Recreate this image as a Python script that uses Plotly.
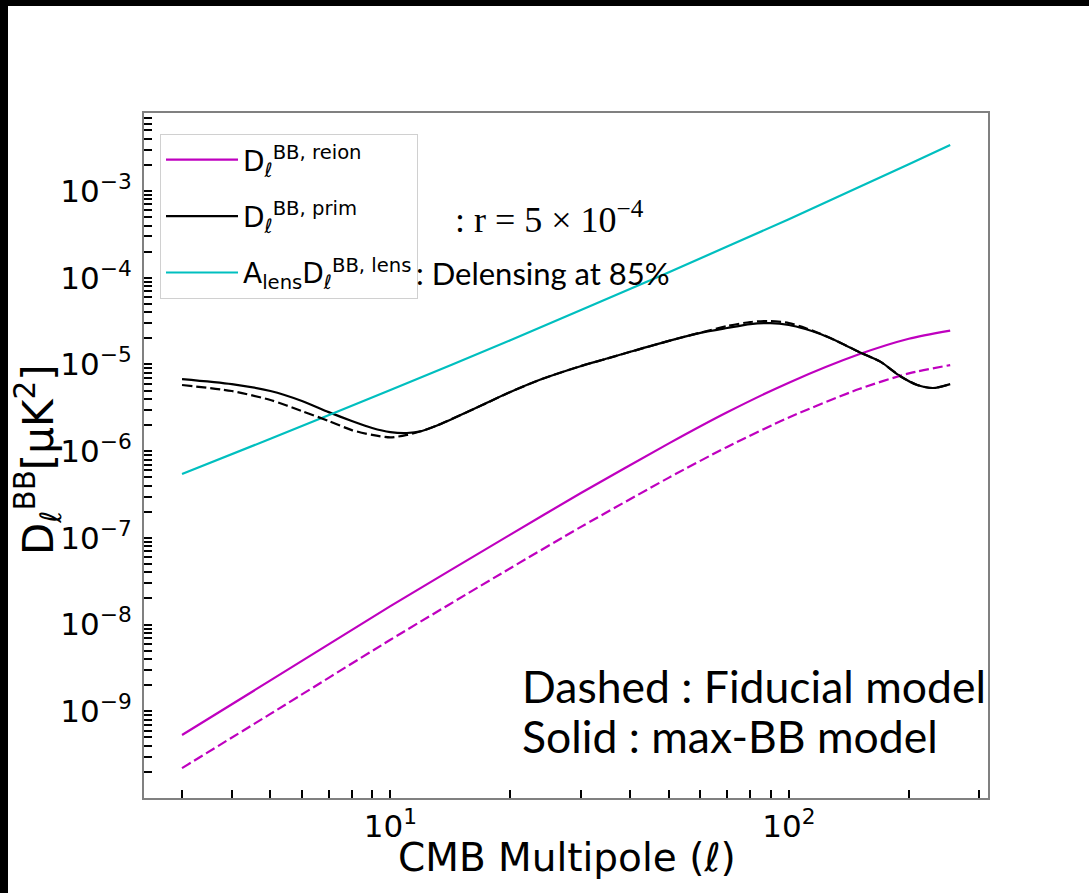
import plotly.graph_objects as go

# ---------------- data ----------------
ell_prim = [3, 4, 5, 6, 7, 8, 9, 10, 11, 12, 13, 15, 17, 20, 24, 30, 35, 40, 50,
            60, 70, 80, 90, 100, 110, 120, 135, 150, 170, 190, 210, 230, 254]
prim_maxbb = [6.79e-6, 5.94e-6, 4.94e-6, 3.79e-6, 2.82e-6, 2.23e-6, 1.85e-6, 1.66e-6,
              1.62e-6, 1.71e-6, 1.95e-6, 2.61e-6, 3.40e-6, 4.81e-6, 6.79e-6, 9.55e-6,
              1.17e-5, 1.40e-5, 1.87e-5, 2.31e-5, 2.63e-5, 2.92e-5, 3.00e-5, 2.85e-5,
              2.56e-5, 2.24e-5, 1.77e-5, 1.39e-5, 1.07e-5, 7.36e-6, 5.79e-6, 5.35e-6, 5.94e-6]
prim_fid = [5.79e-6, 4.94e-6, 3.89e-6, 2.90e-6, 2.23e-6, 1.75e-6, 1.54e-6, 1.44e-6,
            1.54e-6, 1.71e-6, 1.95e-6, 2.61e-6, 3.40e-6, 4.81e-6, 6.79e-6, 9.55e-6,
            1.17e-5, 1.40e-5, 1.87e-5, 2.33e-5, 2.77e-5, 3.09e-5, 3.17e-5, 3.00e-5,
            2.63e-5, 2.26e-5, 1.77e-5, 1.39e-5, 1.07e-5, 7.36e-6, 5.79e-6, 5.35e-6, 5.94e-6]

ell_reion = [3, 5, 10, 20, 30, 50, 70, 100, 150, 200, 254]
reion_maxbb = [5.32e-10, 2.27e-9, 1.63e-8, 1.09e-7, 3.27e-7, 1.23e-6, 2.81e-6,
               6.17e-6, 1.31e-5, 1.98e-5, 2.46e-5]
reion_fid = [2.21e-10, 9.33e-10, 6.68e-9, 4.47e-8, 1.33e-7, 4.95e-7, 1.12e-6,
             2.45e-6, 5.20e-6, 7.89e-6, 9.84e-6]

ell_lens = [3, 5, 10, 20, 50, 100, 200, 254]
lens_delensed = [5.45e-7, 1.39e-6, 5.08e-6, 1.90e-5, 1.16e-4, 4.74e-4, 2.04e-3, 3.40e-3]

x_tickvals = [10, 100]
x_ticktext = ["10<sup>1</sup>", "10<sup>2</sup>"]
y_tickvals = [1e-9, 1e-8, 1e-7, 1e-6, 1e-5, 1e-4, 1e-3]
y_ticktext = ["10<sup>\u22129</sup>", "10<sup>\u22128</sup>", "10<sup>\u22127</sup>",
              "10<sup>\u22126</sup>", "10<sup>\u22125</sup>", "10<sup>\u22124</sup>",
              "10<sup>\u22123</sup>"]

# ---------------- styling ----------------
MAG = "#BF00BF"
CYA = "#00BFBF"
BLK = "#000000"
LW = 2.2
DASH = "10px,4px"
SPL = dict(shape="spline", smoothing=0.7)

# page has black strips: 8 px on the left, 6 px on top (CSS borders)
BL, BT = 8, 6
W, H = 1089 - BL, 893 - BT
X0, X1, Y0, Y1 = 144, 988, 113, 798          # plot box in page pixels
L, T = X0 - BL, Y0 - BT
R, B = 1089 - X1, 893 - Y1
PW, PH = X1 - X0, Y1 - Y0


def px(xp):
    return (xp - X0) / PW


def py(yp):
    return (Y1 - yp) / PH


fig = go.Figure()

fig.add_trace(go.Scatter(x=ell_reion, y=reion_maxbb, mode="lines",
                         line=dict(color=MAG, width=LW, **SPL),
                         name="D<sub>\u2113</sub><sup>BB, reion</sup>",
                         legendgroup="g1"))
fig.add_trace(go.Scatter(x=ell_prim, y=prim_maxbb, mode="lines",
                         line=dict(color=BLK, width=LW, **SPL),
                         name="D<sub>\u2113</sub><sup>BB, prim</sup>",
                         legendgroup="g2"))
fig.add_trace(go.Scatter(x=ell_lens, y=lens_delensed, mode="lines",
                         line=dict(color=CYA, width=LW, **SPL),
                         name="A<sub>lens</sub>D<sub>\u2113</sub><sup>BB, lens</sup>",
                         legendgroup="g3"))
fig.add_trace(go.Scatter(x=ell_reion, y=reion_fid, mode="lines",
                         line=dict(color=MAG, width=LW, dash=DASH, **SPL),
                         showlegend=False))
fig.add_trace(go.Scatter(x=ell_prim, y=prim_fid, mode="lines",
                         line=dict(color=BLK, width=LW, dash=DASH, **SPL),
                         showlegend=False))

x_minor = [m * 10 ** e for e in range(0, 3) for m in range(2, 10) if 2.4 < m * 10 ** e < 317]
y_minor = [m * 10.0 ** e for e in range(-10, -2) for m in range(2, 10)]

axis_common = dict(
    type="log", showline=True, linecolor="#808080", linewidth=2, mirror=True,
    ticks="inside", ticklen=8, tickwidth=2, tickcolor="black",
    showgrid=False, zeroline=False,
    tickfont=dict(family="DejaVu Sans", size=31, color="black"),
)

fig.update_layout(
    width=W, height=H, autosize=False,
    margin=dict(l=L, r=R, t=T, b=B),
    paper_bgcolor="white", plot_bgcolor="white",
    xaxis=dict(**axis_common, range=[0.3817, 2.4997],
               tickvals=x_tickvals, ticktext=x_ticktext,
               minor=dict(tickvals=x_minor, ticks="inside", ticklen=8, tickwidth=2,
                          tickcolor="black", showgrid=False)),
    yaxis=dict(**axis_common, range=[-10.0, -2.1],
               tickvals=y_tickvals, ticktext=y_ticktext, ticklabelstandoff=4,
               minor=dict(tickvals=y_minor, ticks="inside", ticklen=8, tickwidth=2,
                          tickcolor="black", showgrid=False)),
    legend=dict(x=px(160), y=py(134), xanchor="left", yanchor="top",
                bgcolor="rgba(255,255,255,0.85)", bordercolor="#d0d0d0", borderwidth=1,
                font=dict(family="DejaVu Sans", size=28, color="black"),
                tracegroupgap=17, itemwidth=72),
    showlegend=True,
)

# axis titles placed as text
fig.add_annotation(xref="paper", yref="paper", x=px(38), y=py(460),
                   xanchor="center", yanchor="middle", showarrow=False, textangle=-90,
                   text="D<sub>\u2113</sub><sup>BB</sup>[\u00b5K<sup>2</sup>]",
                   font=dict(family="DejaVu Sans", size=42, color="black"))
fig.add_annotation(xref="paper", yref="paper", x=px(567), y=py(857),
                   xanchor="center", yanchor="middle", showarrow=False,
                   text="CMB Multipole (\u2113)",
                   font=dict(family="DejaVu Sans", size=39, color="black"))

ann_font = dict(family="Lato", color="black")
fig.add_annotation(xref="paper", yref="paper", x=px(453), y=py(217),
                   xanchor="left", yanchor="middle", showarrow=False,
                   text=": r = 5 \u00d7 10<sup>\u22124</sup>",
                   font=dict(family="Liberation Serif", size=36, color="black"))
fig.add_annotation(xref="paper", yref="paper", x=px(414), y=py(273),
                   xanchor="left", yanchor="middle", showarrow=False,
                   text=": Delensing at 85%", font=dict(**ann_font, size=31))
fig.add_annotation(xref="paper", yref="paper", x=px(520), y=py(685),
                   xanchor="left", yanchor="middle", showarrow=False,
                   text="Dashed : Fiducial model", font=dict(**ann_font, size=44.5))
fig.add_annotation(xref="paper", yref="paper", x=px(520), y=py(735),
                   xanchor="left", yanchor="middle", showarrow=False,
                   text="Solid : max-BB model", font=dict(**ann_font, size=44.5))

page_js = (
    "document.body.style.margin='0px';"
    "document.body.style.background='white';"
    "document.body.style.borderLeft='%dpx solid black';"
    "document.body.style.borderTop='%dpx solid black';" % (BL, BT)
)
fig.write_html("out.html", config={"displayModeBar": False}, post_script=page_js)
